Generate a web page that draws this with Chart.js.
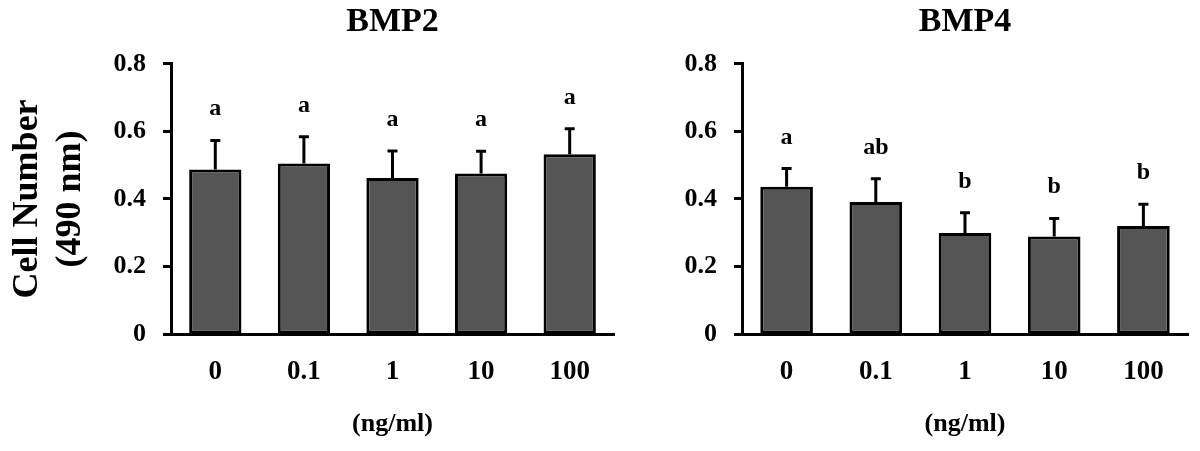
<!DOCTYPE html>
<html>
<head>
<meta charset="utf-8">
<script src="https://cdn.jsdelivr.net/npm/chart.js@4.4.1/dist/chart.umd.min.js"></script>
<style>
  html, body { margin: 0; padding: 0; background: #fff; }
  #wrap { position: relative; width: 1200px; height: 451px; }
  .box { position: absolute; top: 0; height: 451px; }
  #left { left: 0; width: 620px; }
  #right { left: 620px; width: 580px; }
</style>
</head>
<body>
<div id="wrap">
  <div class="box" id="left"><canvas id="chartBmp2"></canvas></div>
  <div class="box" id="right"><canvas id="chartBmp4"></canvas></div>
</div>
<script>
// doses (ng/ml)
const doses = ['0', '0.1', '1', '10', '100'];
const yTicks = [0, 0.2, 0.4, 0.6, 0.8];

// BMP2
const bmp2Means = [0.487, 0.505, 0.462, 0.475, 0.532];
const bmp2Err = [0.086, 0.079, 0.080, 0.066, 0.076];
const bmp2Letters = ['a', 'a', 'a', 'a', 'a'];

// BMP4
const bmp4Means = [0.436, 0.391, 0.299, 0.289, 0.320];
const bmp4Err = [0.054, 0.069, 0.060, 0.053, 0.064];
const bmp4Letters = ['a', 'ab', 'b', 'b', 'b'];

const serif = '"Liberation Serif", "Times New Roman", serif';

// error bars (upper only) + letters above them
function errorBars(err, letters) {
    return {
        id: 'errorBars',
        afterDatasetsDraw(chart) {
            const ctx = chart.ctx;
            const y = chart.scales.y;
            const means = chart.data.datasets[0].data;
            const meta = chart.getDatasetMeta(0);
            ctx.save();
            ctx.strokeStyle = '#000';
            ctx.fillStyle = '#000';
            ctx.lineWidth = 3;
            ctx.font = 'bold 24px ' + serif;
            ctx.textAlign = 'center';
            ctx.textBaseline = 'alphabetic';
            meta.data.forEach((bar, i) => {
                const top = y.getPixelForValue(means[i] + err[i]);
                ctx.beginPath();
                ctx.moveTo(bar.x, bar.y);
                ctx.lineTo(bar.x, top);
                ctx.moveTo(bar.x - 5, top);
                ctx.lineTo(bar.x + 5, top);
                ctx.stroke();
                ctx.fillText(letters[i], bar.x, top - 25);
            });
            ctx.restore();
        }
    };
}

function makeChart(id, title, means, err, letters, yTitle, yWidth, padRight) {
    return new Chart(document.getElementById(id), {
        type: 'bar',
        data: {
            labels: doses,
            datasets: [{
                data: means,
                backgroundColor: '#555555',
                borderColor: '#000',
                borderWidth: 3,
                borderSkipped: false,
                categoryPercentage: 1,
                barPercentage: 0.59
            }]
        },
        options: {
            responsive: true,
            maintainAspectRatio: false,
            animation: false,
            layout: { padding: { left: 0, right: padRight, top: 0, bottom: 0 } },
            plugins: {
                legend: { display: false },
                tooltip: { enabled: false },
                title: {
                    display: true,
                    text: title,
                    fullSize: false,
                    color: '#000',
                    font: { family: serif, size: 34, weight: 'bold' },
                    padding: { top: 2, bottom: 21 }
                }
            },
            scales: {
                x: {
                    afterFit: s => { s.height = 117; },
                    grid: { display: false, drawTicks: false },
                    border: { display: true, color: '#000', width: 3 },
                    ticks: {
                        color: '#000',
                        padding: 22,
                        font: { family: serif, size: 27, weight: 'bold' }
                    },
                    title: {
                        display: true,
                        text: '(ng/ml)',
                        color: '#000',
                        font: { family: serif, size: 26, weight: 'bold' },
                        padding: { top: 0, bottom: 11 }
                    }
                },
                y: {
                    min: 0,
                    max: 0.8,
                    afterBuildTicks: s => { s.ticks = yTicks.map(v => ({ value: v })); },
                    afterFit: s => { s.width = yWidth; },
                    grid: {
                        drawOnChartArea: false,
                        drawTicks: true,
                        tickLength: 8,
                        tickWidth: 3,
                        tickColor: '#000'
                    },
                    border: { display: true, color: '#000', width: 3 },
                    ticks: {
                        color: '#000',
                        padding: 17,
                        font: { family: serif, size: 26, weight: 'bold' }
                    },
                    title: {
                        display: !!yTitle,
                        text: yTitle || '',
                        color: '#000',
                        font: { family: serif, size: 36, weight: 'bold', lineHeight: 1.2 },
                        padding: { top: 6, bottom: 0 }
                    }
                }
            }
        },
        plugins: [errorBars(err, letters)]
    });
}

makeChart('chartBmp2', 'BMP2', bmp2Means, bmp2Err, bmp2Letters, ['Cell Number', '(490 nm)'], 171, 6);
makeChart('chartBmp4', 'BMP4', bmp4Means, bmp4Err, bmp4Letters, null, 122, 12);
</script>
</body>
</html>
